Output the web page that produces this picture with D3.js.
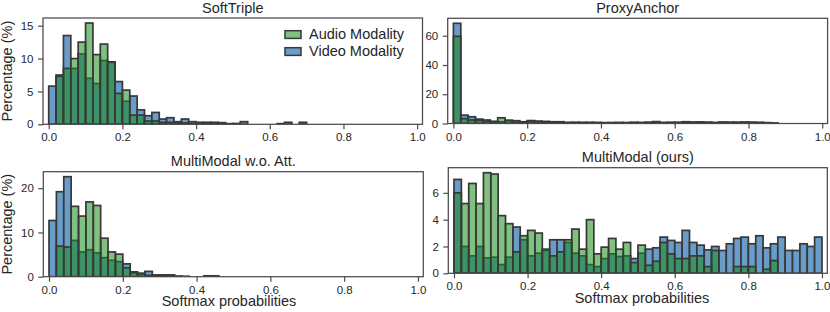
<!DOCTYPE html>
<html><head><meta charset="utf-8">
<script src="https://cdn.jsdelivr.net/npm/d3@7"></script>
<style>
body{margin:0;background:#fff}
text{font-family:"Liberation Sans",Arial,Helvetica,sans-serif}
</style>
</head><body>
<svg id="chart" width="830" height="312"></svg>
<script>
// ---------- data (percent per bin, 50 bins of width 0.02 on [0,1]) ----------
const binWidth = 0.02;
const xTicks = [0, 0.2, 0.4, 0.6, 0.8, 1.0];
const seriesNames = ["Audio Modality", "Video Modality"];
const titles = ["SoftTriple", "ProxyAnchor", "MultiModal w.o. Att.", "MultiModal (ours)"];

const softTripleAudio = [0, 7.3, 8.5, 10.0, 12.5, 15.4, 10.6, 12.2, 9.5, 4.7, 5.2, 1.4, 1.4, 0.5, 0.5, 0.3, 0.3, 0.2, 0.2, 0.1, 0.1, 0.1, 0.1, 0.1, 0, 0.1, 0, 0, 0, 0, 0, 0, 0, 0, 0, 0, 0, 0, 0, 0, 0, 0, 0, 0, 0, 0, 0, 0, 0, 0];
const softTripleVideo = [5.8, 7.5, 13.5, 8.5, 10.7, 7.0, 6.2, 9.7, 9.4, 6.5, 3.5, 4.3, 2.2, 1.3, 1.8, 0.8, 1.0, 0.4, 0.8, 0.4, 0.3, 0.3, 0.3, 0.25, 0.1, 0.1, 0.4, 0, 0, 0, 0, 0.1, 0.3, 0, 0.3, 0, 0, 0, 0, 0, 0, 0, 0, 0, 0, 0, 0, 0, 0, 0];

const proxyAudio = [59.6, 3.3, 2.4, 2.2, 1.5, 1.2, 3.9, 2.0, 1.9, 1.0, 1.5, 1.3, 1.2, 1.0, 0.8, 0.6, 0.6, 0.5, 0.5, 0.5, 0.4, 0.5, 0.5, 0.5, 0.6, 0.5, 0.6, 0.7, 0.5, 0.6, 0.6, 0.7, 0.7, 0.8, 0.6, 0.5, 0.7, 0.6, 0.6, 0.7, 0.6, 0.5, 0.4, 0.2, 0, 0, 0, 0, 0, 0];
const proxyVideo = [68.5, 5.7, 4.6, 3.0, 2.4, 1.5, 1.2, 2.2, 1.0, 1.2, 2.0, 1.6, 1.4, 1.2, 1.2, 0.7, 0.8, 0.8, 0.8, 0.7, 0.6, 0.6, 0.7, 0.6, 0.8, 0.7, 0.9, 1.3, 0.7, 0.8, 0.8, 1.2, 1.0, 1.1, 0.9, 0.7, 1.0, 0.9, 0.9, 1.0, 0.9, 0.8, 0.6, 0.3, 0, 0, 0, 0, 0, 0];

const noAttAudio = [0, 6.9, 6.7, 15.9, 13.7, 16.9, 16.1, 8.7, 5.6, 5.1, 2.0, 0.9, 0.8, 0.3, 0.3, 0.3, 0.3, 0.1, 0, 0, 0, 0.1, 0.1, 0, 0, 0, 0, 0, 0, 0, 0, 0, 0, 0, 0, 0, 0, 0, 0, 0, 0, 0, 0, 0, 0, 0, 0, 0, 0, 0];
const noAttVideo = [12.7, 19.2, 22.6, 8.2, 5.6, 6.1, 5.4, 4.3, 3.7, 3.4, 2.9, 1.1, 0.5, 1.2, 0.4, 0.4, 0.4, 0.1, 0.1, 0, 0, 0.2, 0.2, 0, 0, 0, 0, 0, 0, 0, 0, 0, 0, 0, 0, 0, 0, 0, 0, 0, 0, 0, 0, 0, 0, 0, 0, 0, 0, 0];

const oursAudio = [6.0, 5.2, 6.7, 5.2, 7.5, 7.4, 4.3, 3.7, 1.6, 2.8, 3.2, 3.0, 1.8, 1.3, 1.6, 2.5, 3.3, 1.8, 4.0, 1.45, 1.95, 2.6, 1.8, 2.3, 0.8, 2.1, 0.6, 0.9, 2.3, 1.45, 1.1, 1.1, 1.3, 1.3, 0.5, 1.7, 0, 0, 0.5, 0.5, 0.5, 0, 0.3, 0.95, 0, 0, 0, 0, 0, 0];
const oursVideo = [7.0, 2.0, 1.3, 2.0, 1.15, 1.2, 0.65, 1.2, 3.45, 2.5, 1.3, 1.5, 1.7, 2.5, 2.5, 2.3, 1.5, 1.3, 0.65, 0.5, 1.1, 1.45, 1.25, 1.3, 1.1, 1.5, 1.8, 1.9, 2.7, 2.45, 2.3, 3.2, 2.3, 2.1, 1.75, 2.0, 1.7, 2.2, 2.6, 2.7, 2.2, 2.8, 1.9, 2.2, 2.7, 1.7, 1.7, 2.2, 2.0, 2.7];

const yTicksSoftTriple = [0, 5, 10, 15];
const yTicksProxy = [0, 20, 40, 60];
const yTicksNoAtt = [0, 10, 20];
const yTicksOurs = [0, 2, 4, 6];

// ---------- layout & style ----------
const BLUE = "#6a9cca";
const GREEN = "rgb(24,140,24)";
const GREEN_ALPHA = 0.55;
const EDGE = "#383838";
const SPINE = "#4a4a4a";
const TXT = "#262626";

const panels = [
  {title: titles[0], audio: softTripleAudio, video: softTripleVideo, yTicks: yTicksSoftTriple, box: {l: 43, r: 422.5, t: 18, b: 124.3}, ylabel: true, legend: true},
  {title: titles[1], audio: proxyAudio, video: proxyVideo, yTicks: yTicksProxy, box: {l: 447.7, r: 827.6, t: 18.3, b: 123.5}},
  {title: titles[2], audio: noAttAudio, video: noAttVideo, yTicks: yTicksNoAtt, box: {l: 43.3, r: 423.3, t: 171.7, b: 276.7}, ylabel: true, xlabelX: 229},
  {title: titles[3], audio: oursAudio, video: oursVideo, yTicks: yTicksOurs, box: {l: 448.3, r: 827.3, t: 167.7, b: 273.3}, xlabelX: 642}
];

const svg = d3.select("#chart");

panels.forEach((p, pi) => {
  const {l, r, t, b} = p.box;
  const x = d3.scaleLinear().domain([-0.0155, 1.0145]).range([l, r]);
  const ymax = d3.max(p.audio.concat(p.video)) * 1.05;
  const y = d3.scaleLinear().domain([0, ymax]).range([b, t]);

  const g = svg.append("g");
  const clipId = "clip" + pi;
  g.append("clipPath").attr("id", clipId).append("rect")
    .attr("x", l).attr("y", t).attr("width", r - l).attr("height", b - t);
  const plot = g.append("g").attr("clip-path", `url(#${clipId})`);

  const drawSeries = (vals, fill, op) => {
    const data = vals.map((v, i) => ({i, v})).filter(d => d.v > 0);
    plot.append("g").selectAll("rect").data(data).join("rect")
      .attr("x", d => x(d.i * binWidth))
      .attr("width", d => x((d.i + 1) * binWidth) - x(d.i * binWidth))
      .attr("y", d => y(d.v))
      .attr("height", d => y(0) - y(d.v))
      .attr("fill", fill)
      .attr("fill-opacity", op)
      .attr("stroke", EDGE)
      .attr("stroke-width", 1.7);
  };
  drawSeries(p.video, BLUE, 1);
  drawSeries(p.audio, GREEN, GREEN_ALPHA);

  // axes
  const xAxis = d3.axisBottom(x).tickValues(xTicks).tickFormat(d3.format(".1f")).tickSize(5).tickPadding(4);
  const gx = g.append("g").attr("transform", `translate(0,${b})`).call(xAxis);
  const yAxis = d3.axisLeft(y).tickValues(p.yTicks).tickFormat(d3.format("d")).tickSize(5).tickPadding(4.5);
  const gy = g.append("g").attr("transform", `translate(${l},0)`).call(yAxis);
  [gx, gy].forEach(a => {
    a.select(".domain").remove();
    a.selectAll(".tick line").attr("stroke", SPINE).attr("stroke-width", 1.2);
    a.selectAll(".tick text").attr("fill", TXT).style("font-size", "11.5px")
      .style("font-family", '"Liberation Sans",Arial,sans-serif');
  });

  // frame
  g.append("rect").attr("x", l).attr("y", t).attr("width", r - l).attr("height", b - t)
    .attr("fill", "none").attr("stroke", SPINE).attr("stroke-width", 1.25);

  // title
  g.append("text").attr("x", (l + r) / 2).attr("y", t - 5.5).attr("text-anchor", "middle")
    .attr("fill", TXT).style("font-size", "14.5px").text(p.title);

  if (p.ylabel) {
    g.append("text").attr("transform", `translate(12,${(t + b) / 2}) rotate(-90)`)
      .attr("text-anchor", "middle").attr("fill", TXT).style("font-size", "14.5px")
      .text("Percentage (%)");
  }
  if (p.xlabelX) {
    g.append("text").attr("x", p.xlabelX).attr("y", b + 29.5).attr("text-anchor", "middle")
      .attr("fill", TXT).style("font-size", "14.5px").text("Softmax probabilities");
  }
  if (p.legend) {
    const lg = g.append("g");
    const items = [{name: seriesNames[0], fill: GREEN, op: GREEN_ALPHA}, {name: seriesNames[1], fill: BLUE, op: 1}];
    items.forEach((it, k) => {
      const yy = 30.7 + k * 17;
      lg.append("rect").attr("x", 285).attr("y", yy).attr("width", 16).attr("height", 7.7)
        .attr("fill", it.fill).attr("fill-opacity", it.op).attr("stroke", EDGE).attr("stroke-width", 1.5);
      lg.append("text").attr("x", 309).attr("y", yy + 8).attr("fill", TXT)
        .style("font-size", "14.5px").text(it.name);
    });
  }
});
</script>
</body></html>
